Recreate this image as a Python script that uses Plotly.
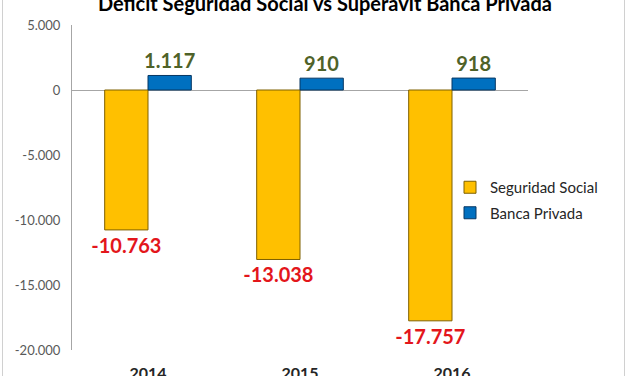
import plotly.graph_objects as go

categories = ["2014", "2015", "2016"]
seguridad_social = [-10763, -13038, -17757]
banca_privada = [1117, 910, 918]
y_tickvals = [5000, 0, -5000, -10000, -15000, -20000]
y_ticktext = ["5.000", "0", "-5.000", "-10.000", "-15.000", "-20.000"]
title_text = "Deficit Seguridad Social vs Superavit Banca Privada"


def fmt(v):
    return f"{v:,}".replace(",", ".")


W, H = 627, 376
L, R, T, B = 72, 99, 25, 26
pw = W - L - R
ph = H - T - B

fig = go.Figure()
fig.add_trace(go.Bar(
    x=categories, y=seguridad_social, name="Seguridad Social",
    marker=dict(color="#FFC000", line=dict(color="#7F6000", width=1)),
    text=[fmt(v) for v in seguridad_social], textposition="outside",
    textfont=dict(color="#E3161B", size=20, family="Lato", weight="bold"),
    constraintext="none", cliponaxis=False, legendgroup="a",
))
fig.add_trace(go.Bar(
    x=categories, y=banca_privada, name="Banca Privada",
    marker=dict(color="#0070C0", line=dict(color="#073763", width=1)),
    text=[fmt(v) for v in banca_privada], textposition="outside",
    textfont=dict(color="#4F6228", size=20, family="Lato", weight="bold"),
    constraintext="none", cliponaxis=False, legendgroup="b",
))

# light chart border (left and right edges)
for px in (2.5, 624.5):
    fig.add_shape(type="line", xref="paper", yref="paper",
                  x0=(px - L) / pw, x1=(px - L) / pw,
                  y0=-B / ph - 0.1, y1=1 + T / ph + 0.1,
                  line=dict(color="#D0D0D0", width=1))

fig.update_layout(
    width=W, height=H,
    margin=dict(l=L, r=R, t=T, b=B, autoexpand=False),
    paper_bgcolor="white", plot_bgcolor="white",
    barmode="group", bargap=0.43, bargroupgap=0,
    separators=",.",
    font=dict(family="Lato", color="#595959"),
    title=dict(text=title_text, x=325 / W, xanchor="center",
               y=1 - 4 / H, yanchor="middle", automargin=False,
               font=dict(size=20, color="#000000", family="Lato", weight="bold")),
    xaxis=dict(showline=False, showgrid=False, zeroline=False, automargin=False,
               ticks="outside", ticklen=9, tickcolor="rgba(0,0,0,0)",
               tickfont=dict(size=16, color="#262626", family="Lato", weight="bold")),
    yaxis=dict(range=[-20000, 5000], tickvals=y_tickvals, ticktext=y_ticktext,
               automargin=False,
               showgrid=False, showline=True, linecolor="#A6A6A6", linewidth=1,
               zeroline=True, zerolinecolor="#A6A6A6", zerolinewidth=1,
               ticks="", ticklabelstandoff=8,
               tickfont=dict(size=13, color="#595959", family="Lato")),
    legend=dict(x=(450 - L) / pw, xanchor="left", y=1 - (171 - T) / ph, yanchor="top",
                font=dict(size=15, color="#262626", family="Lato"),
                tracegroupgap=3, bgcolor="rgba(0,0,0,0)"),
    showlegend=True,
)

fig.write_html("out.html", config={"displayModeBar": False},
               post_script="document.body.style.margin='0';document.body.style.overflow='hidden';")
